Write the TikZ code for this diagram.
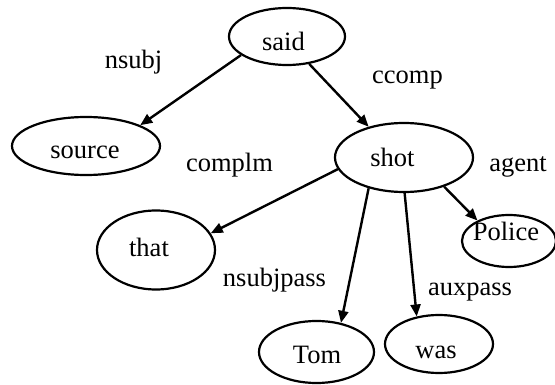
\documentclass[tikz,border=0pt]{standalone}
\usepackage{fontspec}
\setmainfont{Liberation Serif}
\usetikzlibrary{arrows.meta,shapes.geometric}
\begin{document}
\begin{tikzpicture}[x=1pt,y=-1pt,
  word/.style={draw=black,line width=2.2pt,ellipse,inner sep=0pt},
  wtext/.style={anchor=base,inner sep=0pt,font=\fontsize{26.5}{30}\selectfont},
  rel/.style={anchor=base,inner sep=0pt,font=\fontsize{26.5}{30}\selectfont},
  dep/.style={line width=2.4pt,-{Triangle[length=12pt,width=10pt]}}]
\useasboundingbox (0,0) rectangle (555,385);
% ellipses
\node[word,minimum width=116pt,minimum height=57pt] (said) at (287,36.5) {};
\node[word,minimum width=148pt,minimum height=58pt] (source) at (86,146) {};
\node[word,minimum width=138pt,minimum height=69pt] (shot) at (404,157.5) {};
\node[word,minimum width=118pt,minimum height=79pt] (that) at (156,250) {};
\node[word,minimum width=94pt,minimum height=52pt] (police) at (509,241) {};
\node[word,minimum width=115pt,minimum height=62pt] (tom) at (316.5,352) {};
\node[word,minimum width=108pt,minimum height=58pt] (was) at (439,344) {};
% word texts
\node[wtext] (saidt) at (283.5,51) {said};
\node[wtext] (sourcet) at (85,159) {source};
\node[wtext] (shott) at (392.5,167) {shot};
\node[wtext] (thatt) at (149,257) {that};
\node[wtext] (policet) at (506,241) {Police};
\node[wtext] (tomt) at (317,363) {Tom};
\node[wtext] (wast) at (436,358) {was};
% relation labels
\node[rel] (l1) at (133.5,69) {nsubj};
\node[rel] (l2) at (407.5,84) {ccomp};
\node[rel] (l3) at (229.5,172) {complm};
\node[rel] (l4) at (518,172) {agent};
\node[rel] (l5) at (274.5,287) {nsubjpass};
\node[rel] (l6) at (470,295) {auxpass};
% edges
\draw[dep] (said.202.7) -- (source.21);
\draw[dep] (said.309) -- (shot.139.5);
\draw[dep] (shot.190.6) -- (that.17.8);
\draw[dep] (shot.221.9) -- (tom.50.8);
\draw[dep] (shot.271.7) -- (was.129);
\draw[dep] (shot.324) -- (police.147.6);
\end{tikzpicture}
\end{document}
